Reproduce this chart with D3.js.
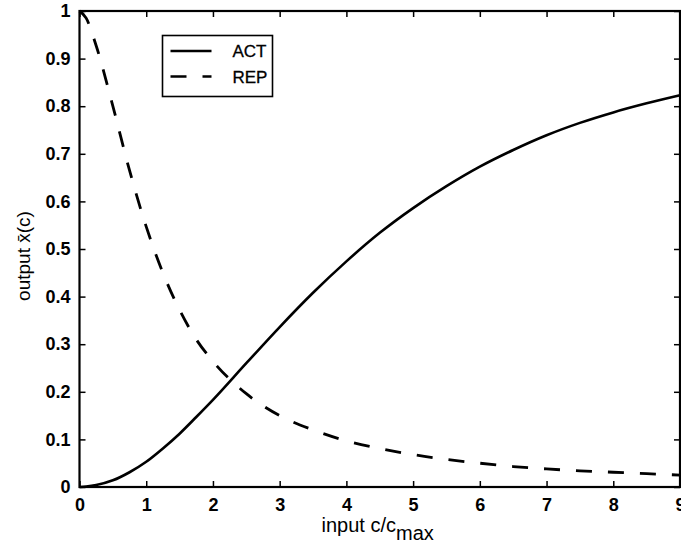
<!DOCTYPE html>
<html>
<head>
<meta charset="utf-8">
<script src="https://cdn.jsdelivr.net/npm/d3@7"></script>
<style>
  html, body { margin: 0; padding: 0; background: #fff; }
  svg { display: block; }
  text { font-family: "Liberation Sans", Arial, Helvetica, sans-serif; fill: #000; }
</style>
</head>
<body>
<svg id="chart" width="681" height="544"></svg>
<script>
// Input concentration (c / c_max) sample positions
const xValues = [0, 0.1, 0.25, 0.5, 0.75, 1, 1.25, 1.5, 1.75, 2, 2.5, 3, 3.5, 4, 4.5, 5, 5.5, 6, 6.5, 7, 7.5, 8, 8.5, 9];

// Activator response
const actValues = [0, 0.001, 0.004, 0.014, 0.031, 0.053, 0.081, 0.112, 0.147, 0.183, 0.26, 0.336, 0.408, 0.474, 0.534, 0.586, 0.632, 0.673, 0.708, 0.739, 0.765, 0.787, 0.806, 0.823];

// Repressor response
const repValues = [1, 0.985, 0.927, 0.80, 0.665, 0.547, 0.45, 0.372, 0.31, 0.264, 0.196, 0.15, 0.12, 0.097, 0.081, 0.068, 0.058, 0.05, 0.043, 0.038, 0.034, 0.031, 0.028, 0.025];

const seriesNames = ["ACT", "REP"];
const xTicks = [0, 1, 2, 3, 4, 5, 6, 7, 8, 9];
const yTicks = [0, 0.1, 0.2, 0.3, 0.4, 0.5, 0.6, 0.7, 0.8, 0.9, 1];

const svg = d3.select("#chart");
const plotLeft = 79.5, plotRight = 680, plotTop = 11, plotBottom = 487;

const x = d3.scaleLinear().domain([0, 9]).range([plotLeft, plotRight]);
const y = d3.scaleLinear().domain([0, 1]).range([plotBottom, plotTop]);

const fmtY = d => (d === 0 || d === 1) ? String(d) : d3.format(".1f")(d);

// Ticks pointing inward on all four sides
function styleAxis(g, showLabels) {
  g.select(".domain").remove();
  g.selectAll(".tick line").attr("stroke", "#000").attr("stroke-width", 1.5);
  g.selectAll(".tick text")
    .attr("font-size", 18)
    .attr("font-weight", "bold")
    .style("display", showLabels ? null : "none");
}

svg.append("g")
  .attr("transform", `translate(0,${plotBottom})`)
  .call(d3.axisBottom(x).tickValues(xTicks).tickSize(-6).tickPadding(11).tickFormat(d3.format("d")))
  .call(g => styleAxis(g, true));

svg.append("g")
  .attr("transform", `translate(0,${plotTop})`)
  .call(d3.axisTop(x).tickValues(xTicks).tickSize(-6))
  .call(g => styleAxis(g, false));

svg.append("g")
  .attr("transform", `translate(${plotLeft},0)`)
  .call(d3.axisLeft(y).tickValues(yTicks).tickSize(-6).tickPadding(9).tickFormat(fmtY))
  .call(g => styleAxis(g, true));

svg.append("g")
  .attr("transform", `translate(${plotRight},0)`)
  .call(d3.axisRight(y).tickValues(yTicks).tickSize(-6))
  .call(g => styleAxis(g, false));

// Curves
const line = d3.line()
  .x((d, i) => x(xValues[i]))
  .y(d => y(d))
  .curve(d3.curveMonotoneX);

svg.append("path")
  .datum(actValues)
  .attr("d", line)
  .attr("fill", "none")
  .attr("stroke", "#000")
  .attr("stroke-width", 2.6);

svg.append("path")
  .datum(repValues)
  .attr("d", line)
  .attr("fill", "none")
  .attr("stroke", "#000")
  .attr("stroke-width", 2.8)
  .attr("stroke-dasharray", "16,16");

// Plot frame
svg.append("rect")
  .attr("x", plotLeft).attr("y", plotTop)
  .attr("width", plotRight - plotLeft).attr("height", plotBottom - plotTop)
  .attr("fill", "none")
  .attr("stroke", "#000")
  .attr("stroke-width", 2.2);

// Legend
const legend = svg.append("g");
legend.append("rect")
  .attr("x", 162.5).attr("y", 35.5)
  .attr("width", 110).attr("height", 61)
  .attr("fill", "#fff")
  .attr("stroke", "#000")
  .attr("stroke-width", 1.6);

seriesNames.forEach((name, i) => {
  const ly = 51 + i * 25.5;
  legend.append("line")
    .attr("x1", 170.5).attr("x2", 211.5)
    .attr("y1", ly).attr("y2", ly)
    .attr("stroke", "#000")
    .attr("stroke-width", 2.6)
    .attr("stroke-dasharray", i === 1 ? "16,16" : null);
  legend.append("text")
    .attr("x", 232.5).attr("y", ly)
    .attr("dy", "0.36em")
    .attr("font-size", 17)
    .attr("stroke", "#000")
    .attr("stroke-width", 0.3)
    .text(name);
});

// Axis titles
svg.append("text")
  .attr("x", 321.5).attr("y", 531.5)
  .attr("font-size", 20)
  .text("input c/c")
  .append("tspan")
  .attr("dy", 8)
  .text("max");

svg.append("text")
  .attr("transform", `translate(30,256) rotate(-90)`)
  .attr("text-anchor", "middle")
  .attr("font-size", 19)
  .text("output x\u0304(c)");
</script>
</body>
</html>
